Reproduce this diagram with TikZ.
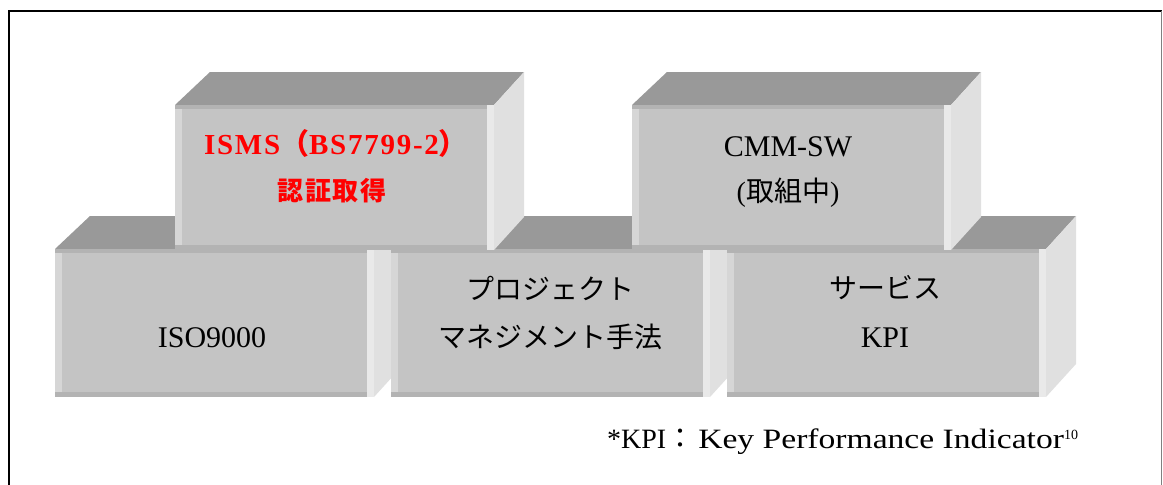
\documentclass[tikz,border=0pt]{standalone}
\usepackage{fontspec}
\usepackage{graphicx}
\setmainfont{Liberation Serif}
\newfontfamily\jp{Noto Sans CJK JP}
\definecolor{facec}{HTML}{C4C4C4}
\definecolor{topc}{HTML}{999999}
\definecolor{sidec}{HTML}{E0E0E0}
\definecolor{leftc}{HTML}{D6D6D6}
\definecolor{rightc}{HTML}{E9E9E9}
\definecolor{edgec}{HTML}{B3B3B3}
\newcommand\drawcube[4]{%
  \fill[topc] (#1,#2) -- (#1+35,#2-33) -- (#3+30,#2-33) -- (#3,#2) -- cycle;
  \fill[sidec] (#3,#2) -- (#3+30,#2-33) -- (#3+30,#4-33) -- (#3,#4) -- cycle;
  \fill[facec] (#1,#2) rectangle (#3,#4);
  \fill[leftc] (#1,#2) rectangle (#1+7,#4);
  \fill[rightc] (#3-7,#2) rectangle (#3,#4);
  \fill[edgec] (#1,#2) rectangle (#3-7,#2+4);
  \fill[edgec] (#1,#4-5) rectangle (#3-7,#4);
}
\tikzset{
  lbl/.style={inner sep=0pt, align=center},
  serif/.style={lbl, font=\fontsize{30}{36}\selectfont},
  gothic/.style={lbl, font=\jp\fontsize{28}{34}\selectfont},
  redtxt/.style={lbl, text=red, font=\bfseries\fontsize{29}{34}\selectfont\addfontfeature{LetterSpace=6}},
}
\begin{document}
\begin{tikzpicture}[x=1pt,y=-1pt]
\useasboundingbox (0,0) rectangle (1163,485);
\fill[white] (0,0) rectangle (1163,485);
% frame
\draw[line width=2pt] (8.5,487) -- (8.5,10.5) -- (1161.5,10.5);
\draw[gray, line width=1pt] (1161.5,10.5) -- (1161.5,487);
% lower row
\drawcube{55}{249}{374}{397}
\drawcube{391}{249}{710}{397}
\drawcube{727}{249}{1046}{397}
% upper row
\drawcube{175}{105}{494}{250}
\drawcube{632}{105}{951}{250}
% texts
\node[redtxt] (isms1) at (336,143) {ISMS{\jp\bfseries （}BS7799-2{\jp\bfseries ）}};
\node[redtxt, font=\jp\bfseries\fontsize{26}{30}\selectfont\addfontfeature{LetterSpace=6}] (isms2) at (332,191) {認証取得};
\node[serif] (cmm1) at (788,147) {CMM-SW};
\node[serif, font=\fontsize{28}{34}\selectfont] (cmm2) at (788,193) {({\jp 取組中})};
\node[serif] (iso) at (212,338) {ISO9000};
\node[gothic] (pm1) at (550,288) {プロジェクト};
\node[gothic] (pm2) at (550,337) {マネジメント手法};
\node[gothic] (kpi1) at (885,288) {サービス};
\node[serif] (kpi2) at (885,338) {KPI};
\node[lbl, anchor=base west, font=\fontsize{28}{32}\selectfont] (foot) at (607,448)
  {*KPI{\jp ：}\hspace{4pt}\scalebox{1.2}[1]{Key Performance Indicator}\raisebox{9pt}{\fontsize{14}{16}\selectfont 10}};
\end{tikzpicture}
\end{document}
